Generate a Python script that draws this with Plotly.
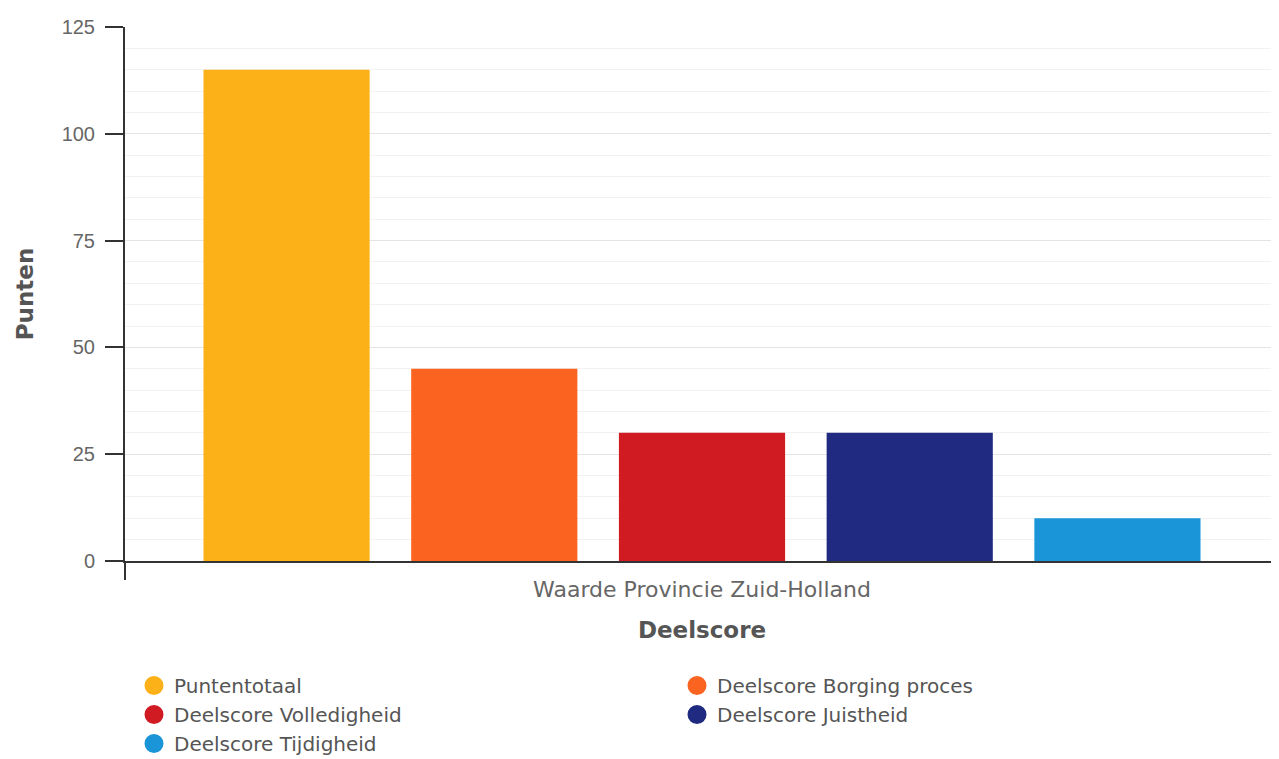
import plotly.graph_objects as go

category = "Waarde Provincie Zuid-Holland"
series_names = ["Puntentotaal", "Deelscore Borging proces", "Deelscore Volledigheid",
                "Deelscore Juistheid", "Deelscore Tijdigheid"]
series_values = [115, 45, 30, 30, 10]
series_colors = ["#FDB118", "#FA6420", "#D11B22", "#1F2A80", "#1A95D8"]
y_ticks = [0, 25, 50, 75, 100, 125]

W, H = 1271, 751

fig = go.Figure()
for name, val, col in zip(series_names, series_values, series_colors):
    fig.add_trace(go.Bar(x=[category], y=[val], name=name, marker_color=col,
                         marker_line_width=0, showlegend=False))
for name, col in zip(series_names, series_colors):
    fig.add_trace(go.Scatter(x=[None], y=[None], mode="markers", name=name,
                             marker=dict(symbol="circle", size=16, color=col,
                                         line=dict(color=col, width=3))))

fig.update_layout(
    width=W, height=H,
    margin=dict(l=117, r=0, t=19, b=198),
    paper_bgcolor="white", plot_bgcolor="white",
    barmode="group", bargap=0.1, bargroupgap=0.2,
    font=dict(family="DejaVu Sans, Arial, sans-serif", color="#666666"),
    yaxis=dict(
        range=[0, 125], tickvals=y_ticks, ticks="outside", ticklen=18, tickwidth=2,
        tickcolor="#333333", showline=True, linecolor="#333333", linewidth=2,
        gridcolor="#e4e4e4", gridwidth=1, zeroline=False,
        minor=dict(dtick=5, showgrid=True, gridcolor="#f2f2f2", gridwidth=1),
        tickfont=dict(family="Liberation Sans, Arial", size=20, color="#666666"),
        ticklabelstandoff=6,
        title=dict(text="<b>Punten</b>", font=dict(family="DejaVu Sans", size=23, color="#555555"),
                   standoff=22),
    ),
    xaxis=dict(
        showline=True, linecolor="#333333", linewidth=2, ticks="",
        tickfont=dict(family="DejaVu Sans", size=22, color="#666666"),
        ticklabelstandoff=8,
        title=dict(text="<b>Deelscore</b>", font=dict(family="DejaVu Sans", size=23, color="#555555"),
                   standoff=20),
    ),
    legend=dict(orientation="h", x=126 / W, xanchor="left", xref="container",
                y=93 / H, yanchor="top", yref="container",
                entrywidth=498, entrywidthmode="pixels", tracegroupgap=0,
                font=dict(family="DejaVu Sans", size=20, color="#555555"), itemsizing="trace"),
)
fig.add_shape(type="line", xref="paper", yref="paper", x0=0, x1=0, y0=0, y1=-19 / 534,
              line=dict(color="#333333", width=2))

fig.write_html("out.html")
